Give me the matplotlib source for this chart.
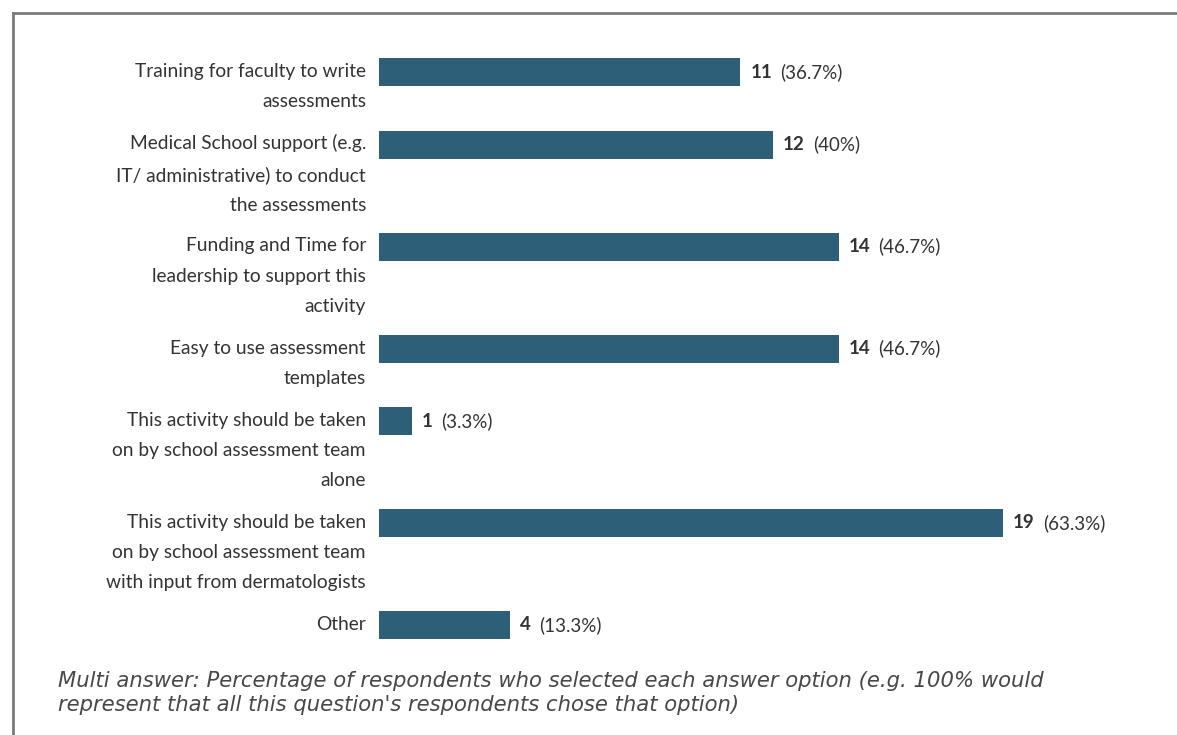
import matplotlib
matplotlib.use("Agg")
import matplotlib.pyplot as plt
from matplotlib.lines import Line2D

# survey answers, one entry per bar (top to bottom)
labels = [
    "Training for faculty to write\nassessments",
    "Medical School support (e.g.\nIT/ administrative) to conduct\nthe assessments",
    "Funding and Time for\nleadership to support this\nactivity",
    "Easy to use assessment\ntemplates",
    "This activity should be taken\non by school assessment team\nalone",
    "This activity should be taken\non by school assessment team\nwith input from dermatologists",
    "Other",
]
counts = [11, 12, 14, 14, 1, 19, 4]
percents = ["36.7%", "40%", "46.7%", "46.7%", "3.3%", "63.3%", "13.3%"]
caption = ("Multi answer: Percentage of respondents who selected each answer option (e.g. 100% would\n"
           "represent that all this question's respondents chose that option)")

W, H = 1177, 735
BAR_COLOR = "#2d5f78"
TEXT = "#333333"
LINE_H = 29.5   # pixel height of one label line
GAP = 13.5

fig = plt.figure(figsize=(W / 100, H / 100), dpi=100)
fig.patch.set_facecolor("white")

# frame lines (left + top only)
fig.add_artist(Line2D([13 / W, 13 / W], [0, 1 - 13 / H], color="#7a7a7a", lw=2))
fig.add_artist(Line2D([13 / W, 1], [1 - 13 / H, 1 - 13 / H], color="#7a7a7a", lw=2))

# axes: y in pixels from top, x in counts (0 at x=379px, 32.84 px per count)
x0 = 379
px_per = 32.84
ax = fig.add_axes([x0 / W, 0, (W - x0) / W, 1])
ax.set_xlim(0, (W - x0) / px_per)
ax.set_ylim(H, 0)
ax.axis("off")

# bar centres follow the number of label lines
ys = []
y = 72
for lab in labels:
    ys.append(y)
    y += (lab.count("\n") + 1) * LINE_H + GAP

ax.barh(ys, counts, height=28, color=BAR_COLOR, edgecolor="none")

for yc, lab, c, p in zip(ys, labels, counts, percents):
    n = lab.count("\n")
    # centre of the first line sits on the bar centre
    ax.annotate(lab, xy=(0, yc), xytext=(-13, -n * LINE_H / 2), textcoords="offset pixels",
                ha="right", va="center", fontsize=13.8, family="Lato", color=TEXT,
                linespacing=1.96, annotation_clip=False)
    t = ax.annotate(str(c), xy=(c, yc), xytext=(10, 0), textcoords="offset pixels",
                    ha="left", va="center", fontsize=13.5, family="Lato",
                    fontweight="bold", color=TEXT)
    ax.annotate("(" + p + ")", xycoords=t, xy=(1, 0.5), xytext=(8, 0),
                textcoords="offset pixels", ha="left", va="center",
                fontsize=13.5, family="Lato", color=TEXT)

fig.text(58 / W, 1 - 671 / H, caption, ha="left", va="top", fontsize=15.2,
         family="DejaVu Sans", style="italic", color="#484848", linespacing=1.27)

fig.savefig("out.png", dpi=100, facecolor="white")
